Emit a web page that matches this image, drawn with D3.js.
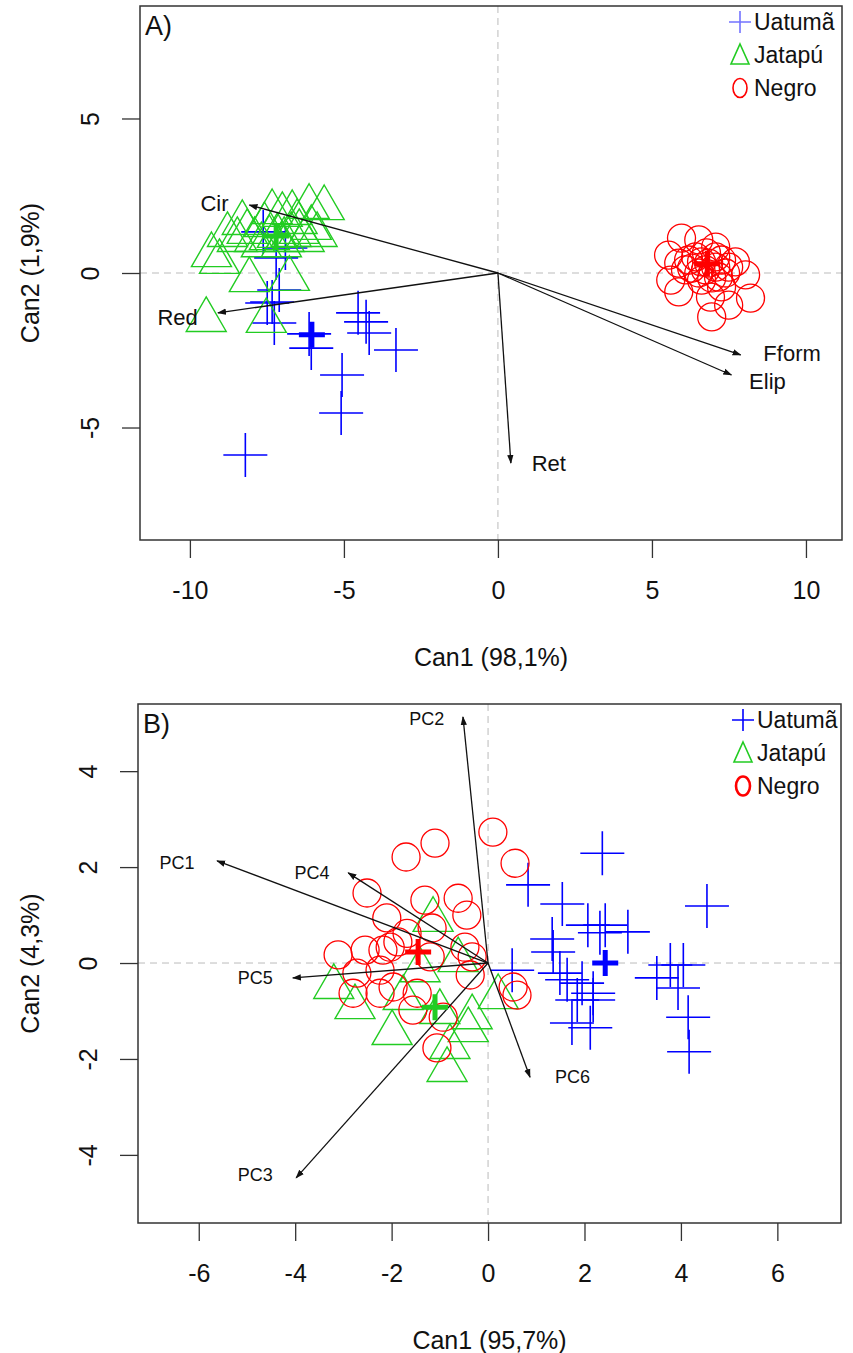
<!DOCTYPE html>
<html>
<head>
<meta charset="utf-8">
<script src="https://cdn.jsdelivr.net/npm/d3@7"></script>
<style>
  body { margin: 0; background: #fff; }
  text { font-family: "Liberation Sans", Arial, sans-serif; fill: #111; }
</style>
</head>
<body>
<script>
// ---- panel A data (Can1 / Can2) ----
var uatumaA = [[-8.2,-5.89],[-5.06,-3.3],[-5.09,-4.53],[-6.06,-2.43],[-6.13,-1.97],[-4.54,-1.29],[-4.28,-1.58],
  [-4.18,-1.94],[-3.31,-2.49],[-7.26,-1.62],[-7.49,-0.97],[-7.1,-0.55],[-7.62,1.33],[-7.2,0.49],[-6.9,0.81],[-7.33,-0.94]];
var jatapuA = [[-9.47,-1.52],[-7.52,-1.55],[-9.3,0.58],[-9.04,0.36],[-8.07,-0.23],[-6.77,-0.19],[-8.3,1.62],[-7.33,1.97],
  [-7.0,1.88],[-6.68,1.94],[-6.13,2.14],[-5.64,2.1],[-7.9,1.07],[-7.68,0.9],[-7.42,1.13],[-7.16,1.2],[-6.94,1.07],
  [-6.71,1.23],[-6.45,1.33],[-6.29,1.07],[-6.06,1.46],[-5.87,1.23],[-8.78,1.23],[-8.46,1.07],[-8.14,1.33],[-7.58,1.55],
  [-6.52,1.65],[-7.03,0.9]];
var negroA = [[5.54,0.58],[5.61,-0.23],[5.87,-0.61],[5.96,1.13],[6.52,1.07],[7.07,0.84],[7.71,0.36],[8.04,-0.06],
  [8.2,-0.81],[7.49,-1.04],[6.94,-1.42],[6.9,-0.78],[7.26,-0.45],[6.19,0.42],[6.42,0.52],[6.61,0.36],[6.84,0.32],
  [7.07,0.19],[6.74,0.1],[6.52,0.0],[6.29,0.16],[7.16,-0.13],[7.39,0.0],[6.61,-0.23],[6.94,-0.16],[6.09,0.1],
  [7.26,0.42],[6.77,0.65],[7.07,0.52],[7.49,0.19],[5.87,0.32]];
var centroidsA = [[-6.04,-2.0],[-7.2,1.2],[6.8,0.3]];
var varsA = ["Cir","Red","Fform","Elip","Ret"];
var tipsA = [[-8.07,2.2],[-9.09,-1.29],[7.88,-2.65],[7.58,-3.3],[0.42,-6.15]];
var labelPosA = [[-9.2,2.27],[-10.4,-1.42],[9.55,-2.6],[8.75,-3.5],[1.65,-6.15]];
var ticksXA = [-10,-5,0,5,10];
var ticksYA = [-5,0,5];

// ---- panel B data ----
var uatumaB = [[2.37,2.29],[0.83,1.63],[1.54,1.23],[2.07,0.79],[2.32,0.63],[2.43,0.79],[2.9,0.65],[1.33,0.5],
  [1.35,0.23],[1.49,-0.21],[1.64,-0.35],[1.95,-0.42],[2.18,-0.63],[2.18,-0.77],[1.74,-1.25],[2.12,-1.35],[4.54,1.19],
  [3.5,-0.31],[3.78,-0.04],[3.94,-0.52],[4.05,-0.04],[4.15,-1.13],[4.17,-1.85],[0.5,-0.15],[1.85,-0.77]];
var jatapuB = [[-1.14,0.9],[-0.62,0.06],[-2.76,-0.92],[-1.76,-0.73],[-1.99,-1.46],[-1.0,-1.02],[-0.33,-1.13],
  [-0.41,-1.4],[-0.79,-1.75],[0.21,-0.71],[-0.85,-2.23],[-1.41,-0.15],[-3.2,-0.5]];
var negroB = [[0.1,2.73],[0.56,2.08],[-1.1,2.5],[-1.7,2.21],[-2.51,1.46],[-1.31,1.31],[-0.62,1.35],[-0.44,1.0],
  [-2.1,0.94],[-1.16,0.73],[-1.68,0.62],[-3.11,0.17],[-2.55,0.27],[-2.18,0.27],[-2.03,0.33],[-1.87,0.44],[-1.2,0.13],
  [-0.48,0.33],[-0.33,0.13],[-2.72,-0.21],[-2.24,-0.15],[-0.37,-0.25],[-2.8,-0.63],[-2.24,-0.63],[-1.97,-0.5],
  [-1.47,-0.63],[-1.56,-0.98],[-0.93,-1.13],[0.52,-0.5],[0.6,-0.67],[-1.06,-1.77]];
var centroidsB = [[2.43,0.0],[-1.1,-0.92],[-1.45,0.23]];
var varsB = ["PC1","PC2","PC3","PC4","PC5","PC6"];
var tipsB = [[-5.62,2.13],[-0.52,5.13],[-3.98,-4.48],[-2.9,1.88],[-4.05,-0.31],[0.87,-2.38]];
var labelPosB = [[-6.45,2.1],[-1.27,5.1],[-4.83,-4.42],[-3.65,1.88],[-4.83,-0.31],[1.75,-2.38]];
var ticksXB = [-6,-4,-2,0,2,4,6];
var ticksYB = [-4,-2,0,2,4];

var groups = ["Uatumã","Jatapú","Negro"];
var colors = ["#0000ff","#22cc22","#ff0000"];

var svg = d3.select("body").append("svg")
  .attr("width", 853).attr("height", 1353);

svg.append("defs").append("marker")
  .attr("id","head").attr("viewBox","0 0 10 10").attr("refX",9).attr("refY",5)
  .attr("markerWidth",9).attr("markerHeight",9).attr("orient","auto-start-reverse")
  .attr("markerUnits","userSpaceOnUse")
  .append("path").attr("d","M0,1.5L10,5L0,8.5z").attr("fill","#111");

var symCross = "M-22,0H22M0,-22V22";
var symTri = "M0,-23.1L20,11.5L-20,11.5Z";

function drawPanel(p) {
  var x = d3.scaleLinear().domain(p.xd).range([p.left, p.right]);
  var y = d3.scaleLinear().domain(p.yd).range([p.bottom, p.top]);
  var g = svg.append("g");

  // dashed zero lines
  g.append("line").attr("x1", x(0)).attr("x2", x(0)).attr("y1", p.top).attr("y2", p.bottom)
    .attr("stroke","#bbb").attr("stroke-dasharray","7,5");
  g.append("line").attr("x1", p.left).attr("x2", p.right).attr("y1", y(0)).attr("y2", y(0))
    .attr("stroke","#bbb").attr("stroke-dasharray","7,5");

  // points
  g.selectAll(".u").data(p.u).enter().append("path")
    .attr("d", symCross).attr("transform", function(d){ return "translate(" + x(d[0]) + "," + y(d[1]) + ")"; })
    .attr("fill","none").attr("stroke", colors[0]).attr("stroke-width",1.6);
  g.selectAll(".j").data(p.j).enter().append("path")
    .attr("d", symTri).attr("transform", function(d){ return "translate(" + x(d[0]) + "," + y(d[1]) + ")"; })
    .attr("fill","none").attr("stroke", colors[1]).attr("stroke-width",1.4);
  g.selectAll(".n").data(p.n).enter().append("circle")
    .attr("cx", function(d){ return x(d[0]); }).attr("cy", function(d){ return y(d[1]); }).attr("r",14)
    .attr("fill","none").attr("stroke", colors[2]).attr("stroke-width",1.3);

  // biplot arrows
  g.selectAll(".arr").data(p.tips).enter().append("line")
    .attr("x1", x(0)).attr("y1", y(0))
    .attr("x2", function(d){ return x(d[0]); }).attr("y2", function(d){ return y(d[1]); })
    .attr("stroke","#111").attr("stroke-width",1.3).attr("marker-end","url(#head)");
  g.selectAll(".lab").data(p.vars).enter().append("text")
    .attr("x", function(d,i){ return x(p.labs[i][0]); })
    .attr("y", function(d,i){ return y(p.labs[i][1]); })
    .attr("dy","0.35em").attr("text-anchor","middle")
    .style("font-size", p.labSize + "px").text(function(d){ return d; });

  // group centroids (bold crosses)
  g.selectAll(".c").data(p.cent).enter().append("path")
    .attr("d","M-13,0H13M0,-13V13")
    .attr("transform", function(d){ return "translate(" + x(d[0]) + "," + y(d[1]) + ")"; })
    .attr("stroke", function(d,i){ return colors[i]; }).attr("stroke-width",5);

  // frame
  g.append("rect").attr("x", p.left).attr("y", p.top)
    .attr("width", p.right - p.left).attr("height", p.bottom - p.top)
    .attr("fill","none").attr("stroke","#333").attr("stroke-width",1.5);

  // axes
  var fmt = function(d){ return String(d); };
  var ax = g.append("g").attr("transform","translate(0," + p.bottom + ")")
    .call(d3.axisBottom(x).tickValues(p.tx).tickSize(18).tickPadding(23).tickFormat(fmt));
  var ay = g.append("g").attr("transform","translate(" + p.left + ",0)")
    .call(d3.axisLeft(y).tickValues(p.ty).tickSize(18).tickFormat(fmt));
  [ax, ay].forEach(function(a){
    a.select(".domain").remove();
    a.selectAll("line").attr("stroke","#333").attr("stroke-width",1.3);
    a.selectAll("text").style("font-size","25px").attr("fill","#111").style("font-family","Liberation Sans, Arial, sans-serif");
  });
  ay.selectAll("text").attr("x",null).attr("dy","0.35em").attr("text-anchor","middle")
    .attr("transform","translate(-50,0) rotate(-90)");

  g.append("text").attr("x", (p.left + p.right) / 2).attr("y", p.bottom + 126)
    .attr("text-anchor","middle").style("font-size","25px").text(p.xt);
  g.append("text").attr("transform","translate(30," + ((p.top + p.bottom) / 2) + ") rotate(-90)")
    .attr("dy","0.35em").attr("text-anchor","middle").style("font-size","25px").text(p.yt);

  g.append("text").attr("x", p.left + 5).attr("y", p.top + 29).style("font-size","27px").text(p.tag);

  // legend
  var leg = g.append("g").attr("transform","translate(" + p.legX + "," + (p.top + 16) + ")");
  groups.forEach(function(name, i){
    var row = leg.append("g").attr("transform","translate(0," + (i * 33) + ")");
    if (i === 0) row.append("path").attr("d","M-11,0H11M0,-11V11").attr("stroke", colors[0])
      .attr("stroke-width",1.6).attr("opacity", p.legFade);
    if (i === 1) row.append("path").attr("d","M0,-11L9,9L-9,9Z").attr("fill","none").attr("stroke", colors[1]).attr("stroke-width",1.6);
    if (i === 2) row.append("ellipse").attr("rx",7).attr("ry",9.5).attr("fill","none").attr("stroke", colors[2]).attr("stroke-width", p.legO);
    row.append("text").attr("x",14).attr("dy","0.36em").style("font-size","23px").text(name);
  });
}

drawPanel({ left:140, right:842, top:6, bottom:540, xd:[-11.62,11.17], yd:[-8.64,8.64],
  u:uatumaA, j:jatapuA, n:negroA, cent:centroidsA, vars:varsA, tips:tipsA, labs:labelPosA, labSize:22,
  tx:ticksXA, ty:ticksYA, xt:"Can1 (98,1%)", yt:"Can2 (1,9%)", tag:"A)", legX:740, legFade:0.55, legO:1.6 });

drawPanel({ left:138, right:841, top:704, bottom:1223, xd:[-7.26,7.32], yd:[-5.42,5.4],
  u:uatumaB, j:jatapuB, n:negroB, cent:centroidsB, vars:varsB, tips:tipsB, labs:labelPosB, labSize:18,
  tx:ticksXB, ty:ticksYB, xt:"Can1 (95,7%)", yt:"Can2 (4,3%)", tag:"B)", legX:743, legFade:1, legO:2.6 });
</script>
</body>
</html>
